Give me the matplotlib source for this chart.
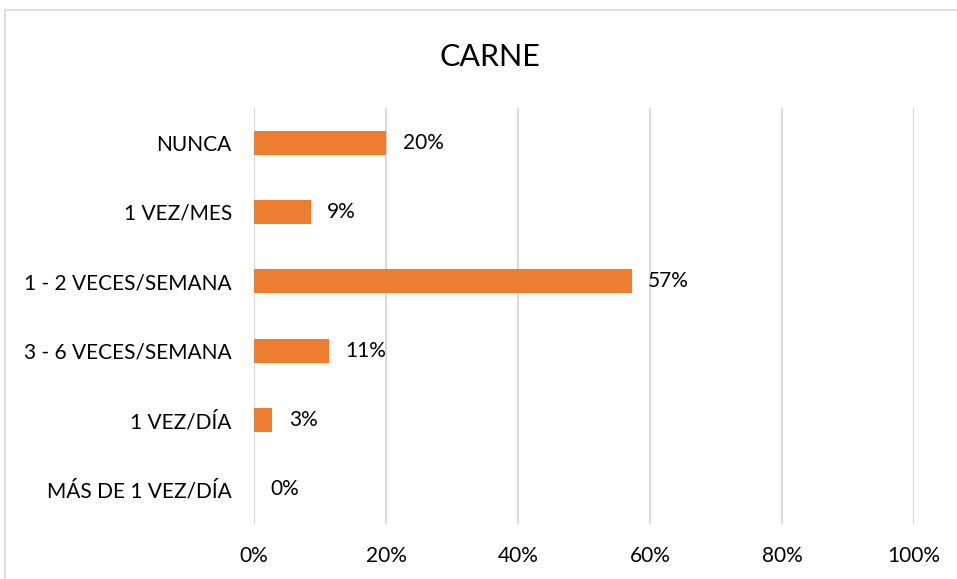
import matplotlib
matplotlib.use("Agg")
import matplotlib.pyplot as plt
from matplotlib.patches import Rectangle

categories = ["NUNCA", "1 VEZ/MES", "1 - 2 VECES/SEMANA", "3 - 6 VECES/SEMANA", "1 VEZ/DÍA", "MÁS DE 1 VEZ/DÍA"]
values = [20.0, 8.6, 57.2, 11.4, 2.8, 0.0]
labels = ["20%", "9%", "57%", "11%", "3%", "0%"]
xticks = [0, 20, 40, 60, 80, 100]
xticklabels = ["0%", "20%", "40%", "60%", "80%", "100%"]

plt.rcParams['font.family'] = ['Lato', 'DejaVu Sans']

W, H = 957, 579
fig = plt.figure(figsize=(W/100, H/100), dpi=100)
fig.patch.set_facecolor("white")

# outer border (left and top visible)
fig.patches.append(Rectangle((5/W, -0.1), 1.2, (1 - 10/H) + 0.1, transform=fig.transFigure,
                             fill=False, edgecolor="#D9D9D9", linewidth=1.2))

ax = fig.add_axes([254/W, 1 - 524/H, (914 - 254)/W, (524 - 108)/H])
y = list(range(len(categories)))
ax.barh(y, values, height=0.35, color="#ED7D31", zorder=3)
ax.set_ylim(len(categories) - 0.5, -0.5)
ax.set_xlim(0, 100)
ax.set_xticks(xticks)
ax.set_xticklabels(xticklabels, fontsize=15, color="#000000")
ax.set_yticks(y)
ax.set_yticklabels(categories, fontsize=15, color="#000000")
ax.tick_params(axis='both', length=0)
ax.tick_params(axis='x', pad=16)
ax.tick_params(axis='y', pad=16)
for s in ax.spines.values():
    s.set_visible(False)
ax.grid(axis='x', color="#D9D9D9", linewidth=1.5, zorder=0)
ax.set_axisbelow(True)

for yi, v, lab in zip(y, values, labels):
    ax.text(v + 2.5, yi, lab, va='center', ha='left', fontsize=15, color="#000000")

fig.text(490/W, 1 - 57/H, "CARNE", ha='center', va='center', fontsize=22, color="#000000")

fig.savefig("out.png", dpi=100, facecolor="white")
